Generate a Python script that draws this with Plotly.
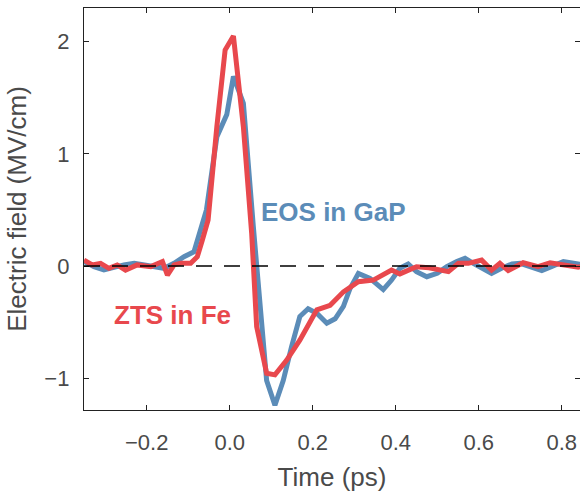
import plotly.graph_objects as go

# EOS in GaP (blue)
eos_t = [-0.351, -0.327, -0.303, -0.279, -0.255, -0.23, -0.21, -0.19, -0.158, -0.134,
         -0.11, -0.086, -0.076, -0.056, -0.031, -0.007, 0.009, 0.033, 0.057, 0.089,
         0.109, 0.129, 0.149, 0.169, 0.189, 0.21, 0.234, 0.254, 0.274, 0.29,
         0.31, 0.338, 0.37, 0.39, 0.41, 0.43, 0.45, 0.475, 0.5, 0.523,
         0.547, 0.567, 0.587, 0.607, 0.631, 0.655, 0.68, 0.70, 0.727, 0.752,
         0.775, 0.804, 0.832, 0.85]
eos_e = [0.04, -0.005, -0.035, -0.01, 0.01, 0.024, 0.01, -0.005, -0.02, 0.024,
         0.083, 0.127, 0.25, 0.5, 1.15, 1.35, 1.69, 1.45, 0.35, -1.02,
         -1.24, -1.02, -0.72, -0.45, -0.38, -0.42, -0.51, -0.47, -0.36, -0.2,
         -0.065, -0.11, -0.21, -0.125, -0.02, 0.018, -0.05, -0.095, -0.065, -0.005,
         0.04, 0.07, 0.024, -0.02, -0.065, -0.02, 0.018, 0.024, -0.005, -0.04,
         -0.005, 0.04, 0.024, 0.01]

# ZTS in Fe (red)
zts_t = [-0.351, -0.331, -0.311, -0.291, -0.271, -0.251, -0.223, -0.19, -0.162, -0.15,
         -0.134, -0.118, -0.094, -0.078, -0.066, -0.052, -0.031, -0.011, 0.009, 0.033,
         0.053, 0.065, 0.089, 0.109, 0.137, 0.169, 0.21, 0.234, 0.242, 0.274,
         0.31, 0.346, 0.39, 0.41, 0.45, 0.48, 0.527, 0.551, 0.575, 0.607,
         0.631, 0.651, 0.671, 0.707, 0.743, 0.772, 0.804, 0.84, 0.85]
zts_e = [0.053, 0.01, 0.024, -0.02, 0.01, -0.036, 0.01, -0.005, 0.04, -0.08,
         0.01, 0.024, 0.024, 0.083, 0.23, 0.41, 1.24, 1.925, 2.05, 1.24,
         0.29, -0.54, -0.956, -0.97, -0.84, -0.66, -0.39, -0.36, -0.35, -0.23,
         -0.14, -0.125, -0.036, -0.07, -0.006, -0.015, -0.05, 0.024, 0.024, 0.053,
         -0.036, 0.024, -0.04, 0.03, -0.005, 0.03, 0.01, -0.01, 0.0]

x_ticks = [-0.2, 0.0, 0.2, 0.4, 0.6, 0.8]
y_ticks = [-1, 0, 1, 2]
x_range = [-0.351, 0.844]
y_range = [-1.283, 2.30]

BLUE = "#5b8cb8"
RED = "#e8484d"
AXIS = "#222222"
TEXT = "#4a4a4a"
FONT = "Liberation Sans, Arial, sans-serif"

fig = go.Figure()
fig.add_trace(go.Scatter(x=eos_t, y=eos_e, mode="lines",
                         line=dict(color=BLUE, width=5), showlegend=False))
fig.add_trace(go.Scatter(x=zts_t, y=zts_e, mode="lines",
                         line=dict(color=RED, width=5), showlegend=False))
# invisible trace to carry the right-side tick marks
fig.add_trace(go.Scatter(x=[x_range[0]], y=[0], yaxis="y2", mode="markers",
                         marker=dict(opacity=0), showlegend=False, hoverinfo="skip"))

fig.add_hline(y=0, line=dict(color="black", width=1.5, dash="16px,12px"), layer="above")

fig.add_annotation(x=0.071, y=0.484, text="<b>EOS in GaP</b>", showarrow=False,
                   xanchor="left", yanchor="middle",
                   font=dict(family=FONT, size=26, color=BLUE))
fig.add_annotation(x=-0.284, y=-0.437, text="<b>ZTS in Fe</b>", showarrow=False,
                   xanchor="left", yanchor="middle",
                   font=dict(family=FONT, size=26, color=RED))

fig.update_layout(
    width=580, height=499,
    margin=dict(l=84, r=0, t=8, b=89),
    paper_bgcolor="white", plot_bgcolor="white",
    font=dict(family=FONT, color=TEXT),
    xaxis=dict(range=x_range, tickvals=x_ticks, tickformat=".1f",
               ticks="inside", ticklen=5, tickwidth=1.3, tickcolor=AXIS,
               showline=True, linecolor=AXIS, linewidth=1.3, mirror="ticks",
               showgrid=False, zeroline=False,
               tickfont=dict(family=FONT, size=22, color=TEXT),
               ticklabelstandoff=12,
               title=dict(text="Time (ps)", font=dict(family=FONT, size=26, color=TEXT),
                          standoff=14)),
    yaxis=dict(range=y_range, tickvals=y_ticks,
               ticks="inside", ticklen=5, tickwidth=1.3, tickcolor=AXIS,
               showline=True, linecolor=AXIS, linewidth=1.3, mirror=False,
               showgrid=False, zeroline=False,
               tickfont=dict(family=FONT, size=22, color=TEXT),
               ticklabelstandoff=9,
               title=dict(text="Electric field (MV/cm)",
                          font=dict(family=FONT, size=26, color=TEXT), standoff=10)),
    yaxis2=dict(range=y_range, tickvals=y_ticks, overlaying="y", side="right",
                ticks="inside", ticklen=5, tickwidth=1.3, tickcolor=AXIS,
                showline=False, showticklabels=False, showgrid=False, zeroline=False),
)

fig.write_html("out.html")
